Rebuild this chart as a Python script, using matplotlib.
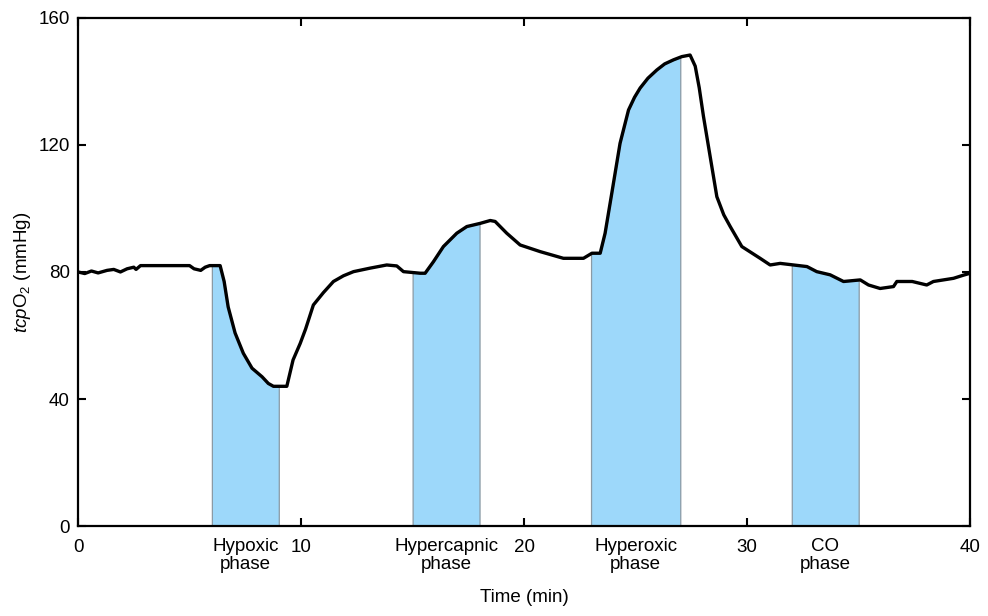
import numpy as np
import matplotlib
matplotlib.use("Agg")
import matplotlib.pyplot as plt
from matplotlib.transforms import blended_transform_factory

plt.rcParams['font.family'] = ['Liberation Sans', 'DejaVu Sans']
plt.rcParams['mathtext.fontset'] = 'custom'
plt.rcParams['mathtext.rm'] = 'Liberation Sans'
plt.rcParams['mathtext.it'] = 'Liberation Sans:italic'

# Data
time_min = [0.0, 0.3, 0.6, 0.9, 1.3, 1.6, 1.9, 2.2, 2.5, 2.6, 2.8, 3.5, 4.5, 5.0,
            5.2, 5.5, 5.7, 5.9, 6.37, 6.55, 6.73, 7.04, 7.41, 7.8, 8.25, 8.53, 8.76,
            9.36, 9.64, 9.96, 10.2, 10.55, 11.0, 11.45, 11.9, 12.35, 13.09, 13.84,
            14.29, 14.59, 15.34, 15.56, 15.93, 16.38, 16.98, 17.43, 18.03, 18.48,
            18.7, 19.22, 19.82, 20.72, 21.76, 22.66, 23.04, 23.41, 23.63, 23.93,
            24.3, 24.68, 24.95, 25.2, 25.55, 25.95, 26.3, 26.7, 27.07, 27.44, 27.67,
            27.85, 28.04, 28.64, 28.95, 29.24, 29.76, 30.58, 31.03, 31.48, 32.08,
            32.68, 33.12, 33.72, 34.32, 35.07, 35.44, 35.96, 36.56, 36.71, 37.4,
            38.05, 38.35, 39.25, 39.7, 40.0]
tcpo2 = [80.0, 79.5, 80.3, 79.7, 80.5, 80.8, 80.0, 81.0, 81.5, 80.8, 82.0, 82.0, 82.0, 82.0,
         81.0, 80.5, 81.5, 82.0, 82.0, 77.0, 69.0, 60.8, 54.4, 49.7, 47.0, 44.9, 44.0,
         44.0, 52.3, 57.5, 62.0, 69.6, 73.5, 77.0, 78.8, 80.1, 81.2, 82.2,
         81.9, 80.1, 79.6, 79.6, 83.2, 88.0, 92.2, 94.3, 95.3, 96.2,
         95.9, 92.2, 88.5, 86.4, 84.3, 84.3, 85.9, 85.9, 92.2, 104.8,
         120.5, 131.0, 135.0, 137.9, 141.0, 143.6, 145.5, 146.8, 147.8, 148.3, 144.8,
         138.0, 129.0, 103.7, 98.0, 94.3, 88.0, 84.3, 82.2, 82.7, 82.2,
         81.7, 80.1, 79.1, 77.0, 77.5, 75.9, 74.8, 75.4, 77.0, 77.0,
         75.9, 77.0, 78.0, 79.0, 79.6]

phase_names = ["Hypoxic\nphase", "Hypercapnic\nphase", "Hyperoxic\nphase", "CO\nphase"]
phase_start = [6, 15, 23, 32]
phase_end = [9, 18, 27, 35]

x_ticks = [0, 10, 20, 30, 40]
y_ticks = [0, 40, 80, 120, 160]

FS = 13.5

fig = plt.figure(figsize=(9.88, 6.16), dpi=100)
ax = fig.add_axes([0.079, 0.146, 0.903, 0.825])

t = np.array(time_min)
v = np.array(tcpo2)
for a, b in zip(phase_start, phase_end):
    tt = np.linspace(a, b, 200)
    vv = np.interp(tt, t, v)
    ax.fill_between(tt, 0, vv, facecolor='#9dd8fa', edgecolor='#8a9aa5', linewidth=0.9, zorder=1)

ax.plot(t, v, color='black', linewidth=2.4, zorder=3, solid_joinstyle='round')

ax.set_xlim(0, 40)
ax.set_ylim(0, 160)
ax.set_xticks(x_ticks)
ax.set_yticks(y_ticks)
ax.tick_params(direction='in', length=6, width=1.5, top=True, right=True, labelsize=FS)
ax.tick_params(axis='x', pad=9)
ax.tick_params(axis='y', pad=6)
for s in ax.spines.values():
    s.set_linewidth(1.6)

trans = blended_transform_factory(ax.transData, ax.transAxes)
for name, a, b in zip(phase_names, phase_start, phase_end):
    ax.text((a + b) / 2, -0.024, name, transform=trans, ha='center', va='top',
            fontsize=FS, linespacing=1.05)

ax.set_xlabel('Time (min)', fontsize=FS, labelpad=24)
ax.set_ylabel(r'$tcp$O$_2$ (mmHg)', fontsize=FS, labelpad=4)

fig.savefig('out.png', dpi=100)
